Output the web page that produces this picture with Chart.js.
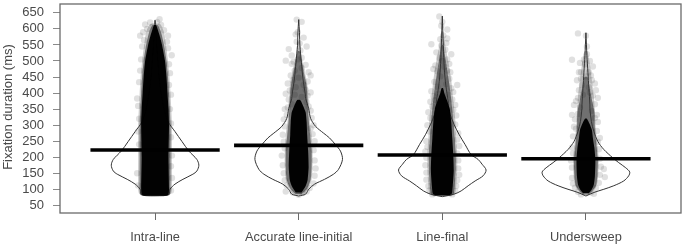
<!DOCTYPE html>
<html><head><meta charset="utf-8">
<style>html,body{margin:0;padding:0;background:#fff}canvas{display:block;filter:blur(.6px)}</style>
<script src="https://cdn.jsdelivr.net/npm/chart.js@4"></script></head>
<body><canvas id="c" width="685" height="244"></canvas>
<script>
const categories = ["Intra-line","Accurate line-initial","Line-final","Undersweep"];
const yTicks = [50,100,150,200,250,300,350,400,450,500,550,600,650];
const means = [222.6,237,207,195];

// violin outlines: duration (ms) and estimated density
const intraMs   = [80,85,100,116,131,147,157,175,193,219,249,280,311,350,400,450,500,550,600,627];
const intraDen  = [9,14,15,20,28,38,42,44,42,34,27,20,13,9,6,4,2.8,1.6,.6,0];
const accMs     = [79,85,100,116,131,147,162,193,219,239,260,275,296,321,352,383,394,444,496,548,588,629];
const accDen    = [0,7,10,16,26,35,40,44,42,37,31,25,17,12,10,7,6.7,4.3,2.7,1.2,.8,0];
const finalMs   = [77,85,95,111,126,142,160,178,193,208,239,270,301,332,362,372,425,475,548,640];
const finalDen  = [0,12,19,26,33,41,44,40,36,29,23,17,12,8,6,6,3.5,2,1,0];
const underMs   = [79,90,100,111,126,142,154,167,183,198,224,249,280,311,352,363,414,465,517,588];
const underDen  = [0,8,18,28,38,43,44,40,33,27,18,12,8,5.5,4,4,3,2,1,0];

// point cloud density bands: duration and half spread
const intraCoreMs  = [80,84,100,200,300,350,400,450,500,550,580,600,612];
const intraCore    = [11,13.5,14,13.5,14,13.5,12.5,11.5,10,7,4.5,2.5,1];
const intraMidMs   = [79,84,100,200,300,400,450,500,550,590,612];
const intraMid     = [12,15,15.5,15.5,15.5,14,13,11.5,9,6,2.5];
const intraHazeMs  = [80,86,100,200,300,400,450,500,550,590,615];
const intraHaze    = [12,16,17,17,17,15.5,14.5,13,11,9,5];
const accCoreMs    = [90,110,130,170,220,270,310,340,360,378];
const accCore      = [3,7,9,10,9.5,8.5,8,7,4.5,1.5];
const accMidMs     = [85,100,130,170,220,270,320,370,420,460,500,530];
const accMid       = [3,8,12,13,13,11.5,10,9,8,5.5,3,1];
const accHazeMs    = [82,90,105,130,170,220,270,320,370,420,470,520,560];
const accHaze      = [4,7,10,13,14,14,13,11,10,9,6,2.5,1];
const finalCoreMs  = [81,86,110,160,210,260,310,350,375,400,415];
const finalCore    = [7,9.5,10.5,11.5,11,10,9,7.5,5,2,.8];
const finalMidMs   = [79,86,110,160,210,260,320,380,430,480,520,550];
const finalMid     = [8,11.5,12.5,13.5,13.5,12.5,11,9,7,4.5,2.5,1];
const finalHazeMs  = [78,86,110,160,210,260,320,380,440,500,550,590];
const finalHaze    = [9,13,14,15,15,14,13,11,9,6,3,1];
const underCoreMs  = [88,100,115,140,190,230,260,285,305,320];
const underCore    = [3,6,8,9,9.5,8.5,7,6,3.5,1];
const underMidMs   = [84,95,110,140,190,240,290,340,380,420,450];
const underMid     = [3,6.5,10,11.5,12,10.5,9,8.5,6,3.5,1.5];
const underHazeMs  = [82,90,105,130,190,240,290,340,390,440,490,530];
const underHaze    = [3.5,6,10,12,13,11.5,10,9,8,6,4,1.5];

// individually visible points: [horizontal jitter, duration]
const intraPts = [[4.5,630],[-10,614],[-5,620],[6,612],[-2,608],[2,622],[-15,579],[13,579],[-12,590],[9,596],[-8,600],[16.7,518],[-13,545],[13,540],[12,560],[-11,565],[-14,505],[14,490],[-15,470],[15,462],[-16,434],[14,425],[-18,383],[16,395],[-17,360],[15,350],[-16,320],[16,305],[-17,280],[16,262],[-16,240],[17,205],[16,172],[-18,150],[17,135],[-17,112],[16,96]];
const accPts = [[-2,629],[3,622],[-3,583],[5,573],[-1,590],[-10,537],[8,545],[-13,501],[-7,517],[1.7,533],[1,555],[-2,560],[-7,491],[7,488],[10,465],[12,455],[-8,455],[-4,470],[3,478],[-1,505],[3,510],[-5,498],[-11,430],[9,436],[-6,440],[5,425],[0,448],[-3,418],[7,410],[-9,408],[-13,398],[12,402],[-10,380],[8,372],[-4,395],[3,388],[-7,365],[9,392],[-14,350],[12,345],[-11,355],[10,358],[-12,332],[13,322],[-15,318],[15,300],[-14,296],[12,290],[-16,270],[16,250],[14,272],[-15,248],[-14,228],[15,222],[-17,205],[-16,175],[17,165],[16,190],[-15,150],[16,142],[-14,128],[15,118],[-12,112],[11,104],[-13,93],[8,93],[-6,90],[4,88],[0,83]];
const finalPts = [[-3,639],[5,598],[1,580],[-2,568],[5,570],[-1,610],[0,622],[-11,552],[9,521],[-6,527],[3,535],[-3,510],[-1,548],[4,556],[-7,486],[7,491],[0,500],[5,505],[-5,468],[5,470],[-9,475],[8,465],[2,482],[15,425],[-11,406],[11,403],[-8,435],[7,445],[-2,452],[-5,420],[4,428],[9,415],[-12,373],[13,363],[-9,390],[10,380],[-4,398],[6,395],[-10,358],[-7,378],[11,348],[-14,340],[14,330],[-12,322],[-15,300],[16,275],[13,302],[-13,280],[-16,250],[17,235],[15,255],[-15,232],[-17,218],[16,190],[15,212],[-16,198],[-17,175],[17,145],[16,165],[-16,152],[-16,130],[15,128],[-14,110],[14,110],[-13,96],[13,95],[-10,84],[10,84]];
const underPts = [[-8,586],[0,579],[-14,504],[-6,494],[1,521],[7,483],[3,465],[-5,465],[-2,505],[1,545],[-1,490],[4,500],[-7,409],[10,409],[-9,440],[6,440],[9,430],[-4,425],[0,452],[-5,445],[3,418],[-7,465],[5,455],[-12,363],[-14,332],[11,332],[-8,385],[12,385],[-3,395],[4,402],[7,392],[-10,375],[9,365],[-6,355],[6,345],[-10,289],[12,310],[-11,318],[9,322],[-8,335],[-13,265],[14,260],[11,282],[-12,295],[-14,230],[13,225],[12,248],[-13,212],[-15,190],[18,163],[19,138],[15,170],[14,195],[-14,168],[-14,135],[13,120],[14,145],[-13,118],[-11,105],[10,104],[5,90],[8,86],[-5,84],[-8,92]];

const pxPerCat = 144.33;
function polygon(cat, ms, den){
  const right = ms.map((m,i)=>({x:cat+den[i]/pxPerCat,y:m}));
  const left = ms.map((m,i)=>({x:cat-den[i]/pxPerCat,y:m})).reverse();
  return right.concat(left);
}
const groups = [
 {v:[intraMs,intraDen],core:[intraCoreMs,intraCore],mid:[intraMidMs,intraMid],haze:[intraHazeMs,intraHaze],pts:intraPts},
 {v:[accMs,accDen],core:[accCoreMs,accCore],mid:[accMidMs,accMid],haze:[accHazeMs,accHaze],pts:accPts},
 {v:[finalMs,finalDen],core:[finalCoreMs,finalCore],mid:[finalMidMs,finalMid],haze:[finalHazeMs,finalHaze],pts:finalPts},
 {v:[underMs,underDen],core:[underCoreMs,underCore],mid:[underMidMs,underMid],haze:[underHazeMs,underHaze],pts:underPts}
];
const datasets = [];
const band = (cat,b,alpha,order)=>({data:polygon(cat,b[0],b[1]),showLine:true,fill:'shape',borderWidth:0,borderColor:'transparent',backgroundColor:`rgba(0,0,0,${alpha})`,pointRadius:0,tension:.2,order});
groups.forEach((g,i)=>{
  const cat = i+1;
  datasets.push(band(cat,g.haze,.2,7));
  datasets.push({data:g.pts.map(p=>({x:cat+p[0]/pxPerCat,y:p[1]})),backgroundColor:'rgba(0,0,0,.12)',borderWidth:0,pointRadius:3.2,order:6});
  datasets.push(band(cat,g.mid,.45,5));
  const v = polygon(cat,g.v[0],g.v[1]); v.push(v[0]);
  datasets.push({data:v,showLine:true,fill:false,borderWidth:1,borderColor:'#333',pointRadius:0,tension:.3,order:4});
  datasets.push(band(cat,g.core,.98,3));
  datasets.push({data:[{x:cat-.45,y:means[i]},{x:cat+.45,y:means[i]}],showLine:true,fill:false,borderWidth:3.6,borderColor:'#000',pointRadius:0,order:1});
});
const font = s=>`${s}px "Liberation Sans"`;
const noPad = s=>{s.paddingTop=0;s.paddingBottom=0;s.paddingLeft=0;s.paddingRight=0};
const framePlugin = {id:'frame',afterDraw(c){const a=c.chartArea,x=c.ctx;x.save();x.strokeStyle='#6a6a6a';x.lineWidth=1.3;x.strokeRect(a.left,a.top,a.right-a.left,a.bottom-a.top);
  x.translate(8.5,(a.top+a.bottom)/2-1.5);x.rotate(-Math.PI/2);x.font=font(13);x.fillStyle='#4a4a4a';x.textAlign='center';x.textBaseline='middle';x.fillText('Fixation duration (ms)',0,0);x.restore();}};
new Chart(document.getElementById('c'),{
  type:'scatter',
  data:{datasets},
  plugins:[framePlugin],
  options:{
    responsive:false,animation:false,events:[],
    layout:{padding:{top:1,right:1,left:0,bottom:0}},
    plugins:{legend:{display:false},tooltip:{enabled:false}},
    scales:{
      x:{type:'linear',min:.338,max:4.662,
        afterBuildTicks:s=>{s.ticks=categories.map((_,i)=>({value:i+1}))},
        afterFit:s=>{s.height=31;noPad(s)},
        grid:{drawOnChartArea:false,drawTicks:true,tickLength:7,color:'#6a6a6a'},
        border:{display:false},
        ticks:{autoSkip:false,maxRotation:0,padding:10,color:'#4a4a4a',font:{family:'"Liberation Sans"',size:12.8},callback:v=>categories[v-1]}},
      y:{type:'linear',min:26,max:677.7,
        afterBuildTicks:s=>{s.ticks=yTicks.map(v=>({value:v}))},
        afterFit:s=>{s.width=60;noPad(s)},
        grid:{drawOnChartArea:false,drawTicks:true,tickLength:7,color:'#8a8a8a'},
        border:{display:false},
        ticks:{autoSkip:false,padding:9,color:'#4a4a4a',font:{family:'"Liberation Sans"',size:13},callback:v=>String(v)}}
    }
  }
});
</script></body></html>
